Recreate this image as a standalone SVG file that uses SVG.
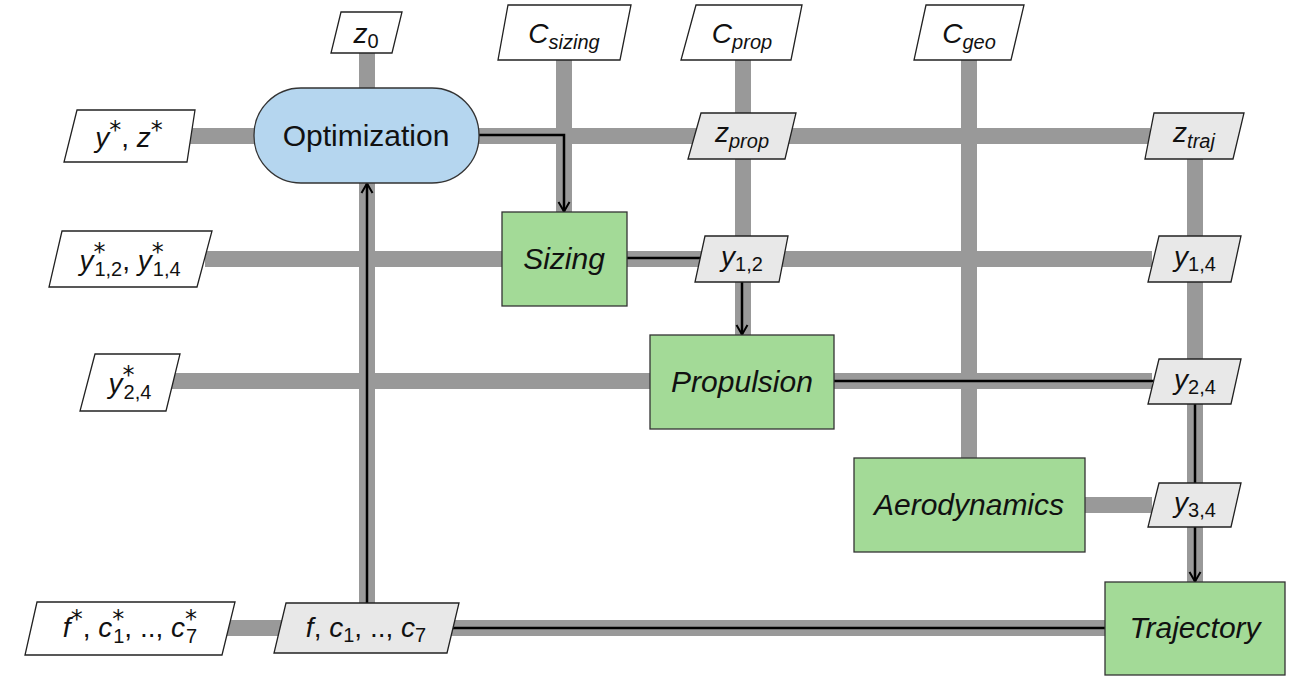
<svg xmlns="http://www.w3.org/2000/svg" width="1297" height="686" viewBox="0 0 1297 686">
<defs>
<marker id="arr" viewBox="0 0 14 14" refX="13" refY="7" markerWidth="14" markerHeight="14" orient="auto" markerUnits="userSpaceOnUse">
<path d="M3,1.5 L12.5,7 L3,12.5" fill="none" stroke="#000" stroke-width="2"/>
</marker>
<style>
.g{stroke:#999;stroke-width:16;fill:none;stroke-linecap:butt}
.k{stroke:#000;stroke-width:2.5;fill:none}
.in{fill:#fff;stroke:#222;stroke-width:1.3}
.mid{fill:#e8e8e8;stroke:#222;stroke-width:1.3}
.disc{fill:#a3da97;stroke:#333;stroke-width:1.3}
.opt{fill:#b5d6ef;stroke:#333;stroke-width:1.3}
text{font-family:"Liberation Sans","DejaVu Sans",sans-serif;fill:#111;text-anchor:middle}
.t{font-size:30px}
.l{font-size:28px}
.i{font-style:italic}
.s{font-size:20px}
.p{font-family:"DejaVu Sans",sans-serif;font-size:24px;font-style:normal}
</style>
</defs>
<rect width="1297" height="686" fill="#fff"/>
<g id="connectors">
<path class="g" d="M367,53 V603"/>
<path class="g" d="M564,60 V212"/>
<path class="g" d="M743,60 V335"/>
<path class="g" d="M969,60 V458"/>
<path class="g" d="M1195,159 V582"/>
<path class="g" d="M190,136 H1150"/>
<path class="g" d="M205,259 H1152"/>
<path class="g" d="M172,381 H1152"/>
<path class="g" d="M1085,505 H1152"/>
<path class="g" d="M225,628 H1105"/>
<path class="k" d="M479,135 H564 V212" marker-end="url(#arr)"/>
<path class="k" d="M627,258 H702"/>
<path class="k" d="M742,282 V335" marker-end="url(#arr)"/>
<path class="k" d="M834,381 H1156"/>
<path class="k" d="M1195,404 V582" marker-end="url(#arr)"/>
<path class="k" d="M452,628 H1105"/>
<path class="k" d="M367,603 V183" marker-end="url(#arr)"/>
</g>
<g id="z0"><polygon class="in" points="341,12 402,12 392,53 331,53"/><text x="366" y="43" class="l"><tspan class="i">z</tspan><tspan class="s" dy="5">0</tspan></text></g>
<g id="csizing"><polygon class="in" points="508,5 631,5 620,60 498,60"/><text x="564" y="43" class="l"><tspan class="i">C</tspan><tspan class="s i" dy="6">sizing</tspan></text></g>
<g id="cprop"><polygon class="in" points="696,5 802,5 791,60 681,60"/><text x="742" y="43" class="l"><tspan class="i">C</tspan><tspan class="s i" dy="6">prop</tspan></text></g>
<g id="cgeo"><polygon class="in" points="926,5 1024,5 1011,60 914,60"/><text x="969" y="43" class="l"><tspan class="i">C</tspan><tspan class="s i" dy="6">geo</tspan></text></g>
<g id="yzstar"><polygon class="in" points="77,110 195,110 187,162 64,162"/><text x="129" y="147" class="l"><tspan class="i">y</tspan><tspan class="p" dy="-9">*</tspan><tspan dy="9">, </tspan><tspan class="i">z</tspan><tspan class="p" dy="-9">*</tspan></text></g>
<g id="optimization"><rect class="opt" x="254" y="88" width="225" height="95" rx="47" ry="47"/><text x="366" y="146" class="t">Optimization</text></g>
<g id="zprop"><polygon class="mid" points="701,113 796,113 785,159 688,159"/><text x="742" y="142" class="l"><tspan class="i">z</tspan><tspan class="s i" dy="6">prop</tspan></text></g>
<g id="ztraj"><polygon class="mid" points="1154,113 1244,113 1233,159 1145,159"/><text x="1194" y="142" class="l"><tspan class="i">z</tspan><tspan class="s i" dy="6">traj</tspan></text></g>
<g id="ystar14"><polygon class="in" points="62,231 212,231 197,287 49,287"/><text x="130" y="270" class="l"><tspan class="i">y</tspan><tspan class="p" dy="-10">*</tspan><tspan class="s" dx="-11" dy="16">1,2</tspan><tspan dy="-6">, </tspan><tspan class="i">y</tspan><tspan class="p" dy="-10">*</tspan><tspan class="s" dx="-11" dy="16">1,4</tspan></text></g>
<g id="sizing"><rect class="disc" x="502" y="212" width="125" height="94"/><text x="564" y="269" class="t i">Sizing</text></g>
<g id="y12"><polygon class="mid" points="705,236 788,236 779,282 695,282"/><text x="742" y="266" class="l"><tspan class="i">y</tspan><tspan class="s" dy="5">1,2</tspan></text></g>
<g id="y14"><polygon class="mid" points="1159,236 1241,236 1231,282 1148,282"/><text x="1195" y="266" class="l"><tspan class="i">y</tspan><tspan class="s" dy="5">1,4</tspan></text></g>
<g id="ystar24"><polygon class="in" points="95,354 180,354 166,411 80,411"/><text x="130" y="393" class="l"><tspan class="i">y</tspan><tspan class="p" dy="-10">*</tspan><tspan class="s" dx="-11" dy="16">2,4</tspan></text></g>
<g id="propulsion"><rect class="disc" x="650" y="335" width="184" height="94"/><text x="742" y="392" class="t i">Propulsion</text></g>
<g id="y24"><polygon class="mid" points="1159,359 1241,359 1231,404 1148,404"/><text x="1195" y="389" class="l"><tspan class="i">y</tspan><tspan class="s" dy="5">2,4</tspan></text></g>
<g id="aerodynamics"><rect class="disc" x="854" y="458" width="231" height="94"/><text x="969" y="515" class="t i">Aerodynamics</text></g>
<g id="y34"><polygon class="mid" points="1159,483 1241,483 1231,527 1148,527"/><text x="1195" y="512" class="l"><tspan class="i">y</tspan><tspan class="s" dy="5">3,4</tspan></text></g>
<g id="trajectory"><rect class="disc" x="1105" y="582" width="180" height="93"/><text x="1195" y="638" class="t i">Trajectory</text></g>
<g id="fstar"><polygon class="in" points="37,602 235,602 222,655 25,655"/><text x="130" y="637" class="l"><tspan class="i">f</tspan><tspan class="p" dy="-10">*</tspan><tspan dy="10">, </tspan><tspan class="i">c</tspan><tspan class="p" dy="-10">*</tspan><tspan class="s" dx="-11" dy="16">1</tspan><tspan dy="-6">, .., </tspan><tspan class="i">c</tspan><tspan class="p" dy="-10">*</tspan><tspan class="s" dx="-11" dy="16">7</tspan></text></g>
<g id="fc"><polygon class="mid" points="286,603 459,603 447,653 274,653"/><text x="366" y="637" class="l"><tspan class="i">f</tspan><tspan>, </tspan><tspan class="i">c</tspan><tspan class="s" dy="5">1</tspan><tspan dy="-5">, .., </tspan><tspan class="i">c</tspan><tspan class="s" dy="5">7</tspan></text></g>
</svg>
